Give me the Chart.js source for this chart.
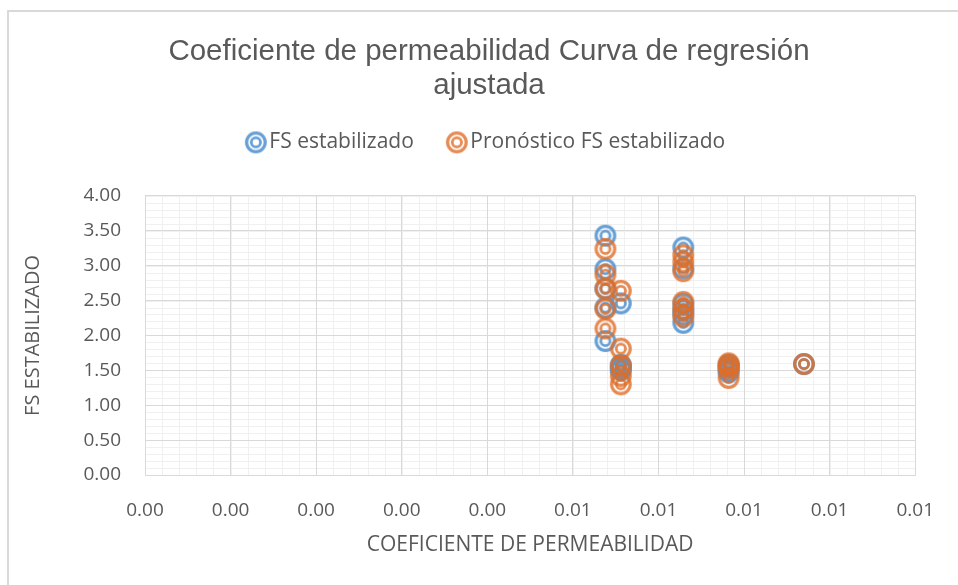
<!DOCTYPE html>
<html>
<head>
<meta charset="utf-8">
<script src="https://cdn.jsdelivr.net/npm/chart.js@4.4.0/dist/chart.umd.min.js"></script>
<style>
  html, body { margin: 0; padding: 0; background: #fff; }
  #wrap { position: relative; width: 958px; height: 585px; }
  #frame {
    position: absolute; left: 7px; top: 10px; right: -5px; bottom: -5px;
    border-left: 2px solid #d9d9d9; border-top: 2px solid #d9d9d9;
    pointer-events: none;
  }
</style>
</head>
<body>
<div id="wrap">
  <canvas id="permChart" width="958" height="585"></canvas>
  <div id="frame"></div>
</div>
<script>
// coeficiente de permeabilidad (eje x), un valor por par de puntos
var coefPermeabilidad = [
  0.00538, 0.00538, 0.00538, 0.00538, 0.00538,
  0.00556, 0.00556, 0.00556, 0.00556, 0.00556,
  0.00629, 0.00629, 0.00629, 0.00629, 0.00629, 0.00629,
  0.00682, 0.00682, 0.00682, 0.00682,
  0.00770
];
// FS estabilizado (medido)
var fsEstabilizado = [
  3.43, 2.95, 2.67, 2.40, 1.92,
  2.46, 1.58, 1.55, 1.52, 1.50,
  3.26, 2.96, 2.45, 2.36, 2.30, 2.18,
  1.58, 1.55, 1.50, 1.47,
  1.59
];
// pronostico de la regresion
var fsPronostico = [
  3.24, 2.87, 2.67, 2.38, 2.10,
  2.64, 1.81, 1.57, 1.42, 1.30,
  3.15, 3.05, 2.92, 2.48, 2.38, 2.27,
  1.60, 1.57, 1.53, 1.39,
  1.59
];
var xTicks = { min: 0, max: 0.009, step: 0.001, minor: 0.0002 };
var yTicks = { min: 0, max: 4, step: 0.5, minor: 0.1 };

function toPoints(xs, ys) {
  var pts = [];
  for (var i = 0; i < xs.length; i++) pts.push({ x: xs[i], y: ys[i] });
  return pts;
}

// marcador de doble anillo estilo Excel
function ringMarker(color) {
  var c = document.createElement('canvas');
  c.width = 26; c.height = 26;
  var g = c.getContext('2d');
  g.strokeStyle = color;
  g.lineWidth = 3.2;
  g.beginPath(); g.arc(13, 13, 9.3, 0, Math.PI * 2); g.stroke();
  g.lineWidth = 2.8;
  g.beginPath(); g.arc(13, 13, 4.6, 0, Math.PI * 2); g.stroke();
  return c;
}

// rejilla secundaria, debajo de la principal
var minorGrid = {
  id: 'minorGrid',
  beforeDraw: function (chart) {
    var ctx = chart.ctx, a = chart.chartArea;
    var xs = chart.scales.x, ys = chart.scales.y;
    ctx.save();
    ctx.strokeStyle = '#f0f0f0';
    ctx.lineWidth = 1;
    ctx.beginPath();
    for (var v = xTicks.min; v <= xTicks.max + 1e-9; v += xTicks.minor) {
      var px = Math.round(xs.getPixelForValue(v)) + 0.5;
      ctx.moveTo(px, a.top); ctx.lineTo(px, a.bottom);
    }
    for (var w = yTicks.min; w <= yTicks.max + 1e-9; w += yTicks.minor) {
      var py = Math.round(ys.getPixelForValue(w)) + 0.5;
      ctx.moveTo(a.left, py); ctx.lineTo(a.right, py);
    }
    ctx.stroke();
    ctx.restore();
  }
};

// deja mas aire entre la leyenda y el area de trazado
var legendGap = {
  id: 'legendGap',
  afterInit: function (chart) {
    var fit = chart.legend.fit;
    chart.legend.fit = function () {
      fit.call(this);
      this.height += 33;
    };
  }
};

var ctx = document.getElementById('permChart');
var permChart = new Chart(ctx, {
  type: 'scatter',
  data: {
    datasets: [{
      label: 'FS estabilizado',
      data: toPoints(coefPermeabilidad, fsEstabilizado),
      pointStyle: ringMarker('rgba(86, 150, 210, 0.9)'),
      backgroundColor: 'rgba(86, 150, 210, 0.9)',
      borderColor: 'rgba(86, 150, 210, 0.9)',
      order: 2
    },
    {
      label: 'Pronóstico FS estabilizado',
      data: toPoints(coefPermeabilidad, fsPronostico),
      pointStyle: ringMarker('rgba(222, 110, 40, 0.8)'),
      backgroundColor: 'rgba(222, 110, 40, 0.8)',
      borderColor: 'rgba(222, 110, 40, 0.8)',
      order: 1
    }]
  },
  options: {
    responsive: false,
    animation: false,
    events: [],
    layout: { padding: { left: 61, right: 41, top: 0, bottom: 23 } },
    plugins: {
      title: {
        display: true,
        text: ['Coeficiente de permeabilidad Curva de regresión', 'ajustada'],
        color: '#595959',
        font: { family: 'Liberation Sans', size: 29.5, weight: 'normal', lineHeight: 1.15 },
        padding: { top: 35, bottom: -11 }
      },
      legend: {
        position: 'top',
        labels: {
          usePointStyle: true,
          boxWidth: 6,
          boxHeight: 6,
          color: '#595959',
          font: { family: 'Open Sans', size: 21 },
          padding: 40,
          sort: function (a, b) { return a.datasetIndex - b.datasetIndex; }
        }
      },
      tooltip: { enabled: false }
    },
    scales: {
      x: {
        type: 'linear',
        min: xTicks.min,
        max: xTicks.max,
        afterFit: function (scale) { scale.height = 87; },
        ticks: {
          stepSize: xTicks.step,
          color: '#595959',
          font: { family: 'Open Sans', size: 19 },
          padding: 24,
          maxRotation: 0,
          callback: function (v) { return v.toFixed(2); }
        },
        grid: { color: '#d9d9d9', drawTicks: false },
        border: { color: '#d9d9d9' },
        title: {
          display: true,
          text: 'COEFICIENTE DE PERMEABILIDAD',
          color: '#595959',
          font: { family: 'Open Sans', size: 21 }
        }
      },
      y: {
        type: 'linear',
        min: yTicks.min,
        max: yTicks.max,
        afterFit: function (scale) { scale.width = 84; },
        ticks: {
          stepSize: yTicks.step,
          color: '#595959',
          font: { family: 'Open Sans', size: 19 },
          padding: 24,
          callback: function (v) { return v.toFixed(2); }
        },
        grid: { color: '#d9d9d9', drawTicks: false },
        border: { color: '#d9d9d9' },
        title: {
          display: true,
          text: 'FS ESTABILIZADO',
          color: '#595959',
          font: { family: 'Open Sans', size: 20 },
          padding: { top: -40, bottom: 0 }
        }
      }
    }
  },
  plugins: [minorGrid, legendGap]
});
</script>
</body>
</html>
